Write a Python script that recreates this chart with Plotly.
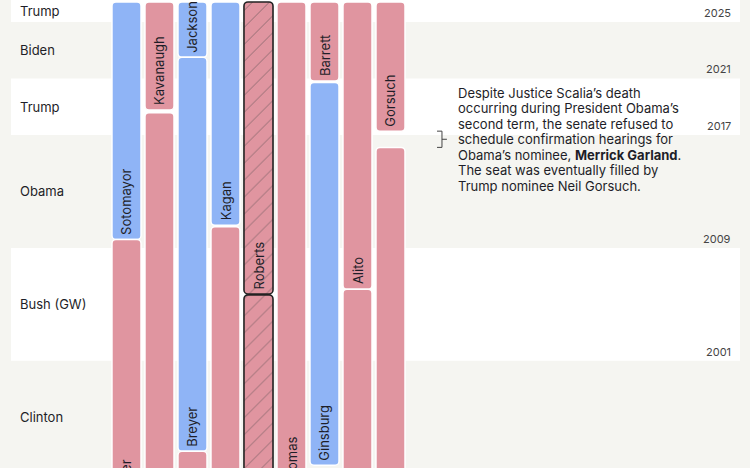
import plotly.graph_objects as go

# ---------------- data ----------------
NOW = 2026.42          # present day (top of the current justices' bars)
TOP = 2026.56          # top of the visible timeline
BOTTOM = 1993.41       # bottom of the visible timeline

justices = ["Sotomayor", "Souter", "Kavanaugh", "Kennedy", "Jackson", "Breyer",
            "Blackmun", "Kagan", "Stevens", "Roberts", "Rehnquist", "Thomas",
            "Barrett", "Ginsburg", "Alito", "O'Connor", "Gorsuch", "Scalia"]
seat = [0, 0, 1, 1, 2, 2, 2, 3, 3, 4, 4, 5, 6, 6, 7, 7, 8, 8]
term_begin = [2009.60, 1990.80, 2018.77, 1988.13, 2022.50, 1994.59, 1970.40,
              2010.60, 1975.97, 2005.74, 1986.72, 1991.81, 2020.82, 1993.61,
              2006.08, 1981.73, 2017.27, 1986.72]
term_finish = [NOW, 2009.60, NOW, 2018.58, NOW, 2022.50, 1994.59,
               NOW, 2010.49, NOW, 2005.67, NOW, NOW, 2020.71,
               NOW, 2006.08, NOW, 2016.12]
party = ["D", "R", "R", "R", "D", "D", "R", "D", "R", "R", "R", "R",
         "R", "D", "R", "R", "R", "R"]
chief = [False, False, False, False, False, False, False, False, False,
         True, True, False, False, False, False, False, False, False]

presidents = ["Trump", "Biden", "Trump", "Obama", "Bush (GW)", "Clinton"]
pres_start = [2025, 2021, 2017, 2009, 2001, 1993]
pres_end = [TOP, 2025, 2021, 2017, 2009, 2001]
pres_band_white = [True, False, True, False, True, False]

year_ticks = [2025, 2021, 2017, 2009, 2001, 1993]

# Garland vacancy (Scalia's seat)
vacancy_start = 2016.12
vacancy_end = 2017.27
note_lines = ["Despite Justice Scalia’s death",
              "occurring during President Obama’s",
              "second term, the senate refused to",
              "schedule confirmation hearings for",
              "Obama’s nominee, <b>Merrick Garland</b>.",
              "The seat was eventually filled by",
              "Trump nominee Neil Gorsuch."]

# ---------------- styles ----------------
W, H = 750, 468
BG = "#f5f5f1"
RED = "#e095a0"
BLUE = "#8fb4f6"
HATCH = "#d26276"
TXT = "#1e1e28"
FONT = "Inter"
BAR_W = 0.88
party_color = {"D": BLUE, "R": RED}
PPY = H / (TOP - BOTTOM)   # pixels per year (zero margins)

fig = go.Figure()

idx_plain = [i for i in range(len(justices)) if not chief[i]]
idx_chief = [i for i in range(len(justices)) if chief[i]]

fig.add_trace(go.Bar(
    x=[seat[i] for i in idx_plain],
    base=[term_begin[i] for i in idx_plain],
    y=[term_finish[i] - term_begin[i] for i in idx_plain],
    width=BAR_W,
    marker=dict(color=[party_color[party[i]] for i in idx_plain],
                line=dict(color="white", width=1.5), cornerradius=4),
    hoverinfo="skip", showlegend=False,
))
fig.add_trace(go.Bar(
    x=[seat[i] for i in idx_chief],
    base=[term_begin[i] for i in idx_chief],
    y=[term_finish[i] - term_begin[i] for i in idx_chief],
    width=BAR_W,
    marker=dict(color=[party_color[party[i]] for i in idx_chief],
                line=dict(color="#222222", width=1.6), cornerradius=4,
                pattern=dict(shape="/", fgcolor=HATCH, size=12, solidity=0.08,
                             fillmode="overlay")),
    hoverinfo="skip", showlegend=False,
))

shapes = []
annotations = []

# president bands
for name, s, e, white in zip(presidents, pres_start, pres_end, pres_band_white):
    if white:
        shapes.append(dict(type="rect", xref="paper", yref="y",
                           x0=11 / W, x1=740 / W, y0=s, y1=e,
                           fillcolor="white", line=dict(width=0), layer="below"))
    annotations.append(dict(text=name, xref="paper", yref="y", x=18 / W,
                            y=(s + e) / 2, xanchor="left", yanchor="middle",
                            showarrow=False, font=dict(family=FONT, size=13, color=TXT)))

# year labels
for yr in year_ticks:
    annotations.append(dict(text=str(yr), xref="paper", yref="y", x=733 / W,
                            y=yr, xanchor="right", yanchor="bottom",
                            showarrow=False, font=dict(family=FONT, size=11, color="#444444")))

# justice labels (only those that reach into the visible window)
for name, sx, b in zip(justices, seat, term_begin):
    start_px = (TOP - b) * PPY
    if start_px - 3 - 7.3 * len(name) > H:
        continue
    ya = max(b, BOTTOM + 0.02)
    annotations.append(dict(text=name, xref="x", yref="y", x=sx, y=ya,
                            xanchor="center", yanchor="bottom",
                            yshift=3 - (ya - b) * PPY,
                            textangle=-90, showarrow=False,
                            font=dict(family=FONT, size=13, color=TXT)))

# bracket for the vacancy
bx = 9.56
bl = 9.41
br = 9.71
ymid = (vacancy_start + vacancy_end) / 2
shapes.append(dict(type="path", xref="x", yref="y",
                   path=(f"M {bl},{vacancy_end} L {bx},{vacancy_end} L {bx},{vacancy_start} "
                         f"L {bl},{vacancy_start} M {bx},{ymid} L {br},{ymid}"),
                   line=dict(color="#444444", width=1)))
LINE_PX = 15.5
n = len(note_lines)
for k, line in enumerate(note_lines):
    annotations.append(dict(text=line, xref="x", yref="y", x=9.97, y=ymid,
                            xanchor="left", yanchor="middle", align="left", showarrow=False,
                            yshift=((n - 1) / 2 - k) * LINE_PX,
                            font=dict(family=FONT, size=13, color=TXT)))

fig.update_layout(
    width=W, height=H,
    margin=dict(l=0, r=0, t=0, b=0),
    paper_bgcolor=BG, plot_bgcolor=BG,
    barmode="overlay",
    xaxis=dict(range=[-3.833, 18.894], visible=False, fixedrange=True),
    yaxis=dict(range=[BOTTOM, TOP], visible=False, fixedrange=True),
    shapes=shapes, annotations=annotations,
    showlegend=False,
)

fig.write_html("out.html", config={"displayModeBar": False},
               post_script="document.body.style.margin='0';document.body.style.background='%s';" % BG)
